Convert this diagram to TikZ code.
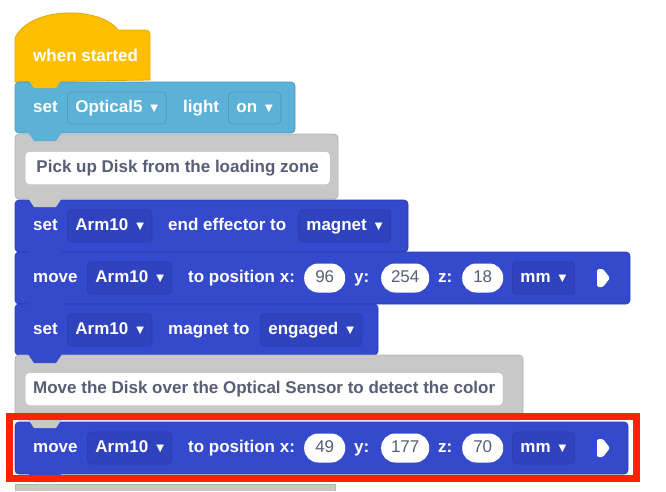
\documentclass[tikz,border=0pt]{standalone}
\usepackage{fontspec}
\setmainfont{Liberation Sans}
\newfontfamily\dvs{DejaVu Sans}
\definecolor{yel}{HTML}{FFBF00}
\definecolor{yelD}{HTML}{E0A800}
\definecolor{lb}{HTML}{5CB1D6}
\definecolor{lbD}{HTML}{4A9CC4}
\definecolor{gr}{HTML}{C8C8C8}
\definecolor{grD}{HTML}{B4B4B4}
\definecolor{bl}{HTML}{3449CC}
\definecolor{blD}{HTML}{2C3DB0}
\definecolor{ddb}{HTML}{2F43BE}
\definecolor{txg}{HTML}{575E75}
\definecolor{redf}{HTML}{FF2200}
\newcommand{\tri}{\hspace{8pt}\raisebox{1.5pt}{\dvs\fontsize{10}{11}\selectfont ▼}}
\begin{document}
\begin{tikzpicture}[x=1pt,y=-1pt,
  every node/.style={font=\fontsize{17}{19}\selectfont\bfseries, inner sep=0pt, text height=12.5pt, text depth=3.5pt},
  lbl/.style={text=white, anchor=west},
  dd/.style={draw=#1, rounded corners=4pt, line width=0.8pt, minimum height=32pt, text=white, anchor=west, inner xsep=8pt},
  pill/.style={fill=white, rounded corners=14pt, minimum height=29pt, text=txg, anchor=west, font=\fontsize{17}{19}\selectfont},
  comm/.style={fill=white, draw=grD, rounded corners=4pt, minimum height=33pt, text=txg, anchor=west, inner xsep=8pt}]
\useasboundingbox (0,0) rectangle (666,491);
\fill[gr] (15,484) rectangle (335,491);
\draw[grD,line width=0.8pt] (15,491)--(15,484)--(335,484)--(335,491);
\filldraw[fill=yel,draw=yelD,line width=0.8pt] (15,82) -- (15,38) .. controls (30,6) and (100,6) .. (118,30) -- (146,30) arc[start angle=-90,end angle=0,radius=4] -- (150,80) -- (15,82) -- cycle;
\filldraw[fill=lb,draw=lbD,line width=0.8pt,rounded corners=4pt] (15,82) rectangle (295,133);
\filldraw[fill=gr,draw=grD,line width=0.8pt,rounded corners=4pt] (15,134) rectangle (338,199);
\filldraw[fill=bl,draw=blD,line width=0.8pt,rounded corners=4pt] (15,200) rectangle (408,252);
\filldraw[fill=bl,draw=blD,line width=0.8pt,rounded corners=4pt] (15,252) rectangle (630,304);
\filldraw[fill=bl,draw=blD,line width=0.8pt,rounded corners=4pt] (15,304) rectangle (378,355);
\filldraw[fill=gr,draw=grD,line width=0.8pt,rounded corners=4pt] (15,355) rectangle (523,420);
\filldraw[fill=bl,draw=blD,line width=0.8pt,rounded corners=4pt] (15,422) rectangle (628,474);
\foreach \y/\c in {80/yel,133/lb,199/gr,252/bl,304/bl,355/bl,420/gr,474/bl}
  \fill[\c] (28,\y-1) -- (34,\y+8) -- (56,\y+8) -- (62,\y-1) -- cycle;
\node[lbl] (ws) at (33,57) {when started};
\node[lbl] (s1) at (33,108) {set};
\node[dd=lbD] (o5) at (67,108) {Optical5\tri};
\node[lbl] (li) at (183,108) {light};
\node[dd=lbD] (on) at (228,108) {on\tri};
\node[comm,minimum width=305pt] (c1) at (25,168) {Pick up Disk from the loading zone};
\node[lbl] (s2) at (33,226) {set};
\node[dd=blD,fill=ddb] (a1) at (67,226) {Arm10\tri};
\node[lbl] (ee) at (168,226) {end effector to};
\node[dd=blD,fill=ddb] (mg) at (298,226) {magnet\tri};
\foreach \yy/\X/\Y/\Z/\nm in {278/96/254/18/a, 448/49/177/70/b}{
  \node[lbl] (mv\nm) at (33,\yy) {move};
  \node[dd=blD,fill=ddb] (arm\nm) at (87,\yy) {Arm10\tri};
  \node[lbl] (tp\nm) at (188,\yy) {to position x:};
  \node[pill,minimum width=41pt] (px\nm) at (304,\yy) {\X};
  \node[lbl] (ly\nm) at (354,\yy) {y:};
  \node[pill,minimum width=48pt] (py\nm) at (381,\yy) {\Y};
  \node[lbl] (lz\nm) at (438,\yy) {z:};
  \node[pill,minimum width=41pt] (pz\nm) at (462,\yy) {\Z};
  \node[dd=blD,fill=ddb] (mm\nm) at (512,\yy) {mm\tri};
  \fill[white,rounded corners=1.5pt] (597,\yy-9) -- (603,\yy-9) -- (610,\yy) -- (603,\yy+9) -- (597,\yy+9) -- cycle;
}
\node[lbl] (s3) at (33,330) {set};
\node[dd=blD,fill=ddb] (a3) at (67,330) {Arm10\tri};
\node[lbl] (mt) at (168,330) {magnet to};
\node[dd=blD,fill=ddb] (en) at (260,330) {engaged\tri};
\node[comm] (c2) at (25,389) {Move the Disk over the Optical Sensor to detect the color};
\draw[redf,line width=7pt] (9,416) rectangle (636,478);
\end{tikzpicture}
\end{document}
